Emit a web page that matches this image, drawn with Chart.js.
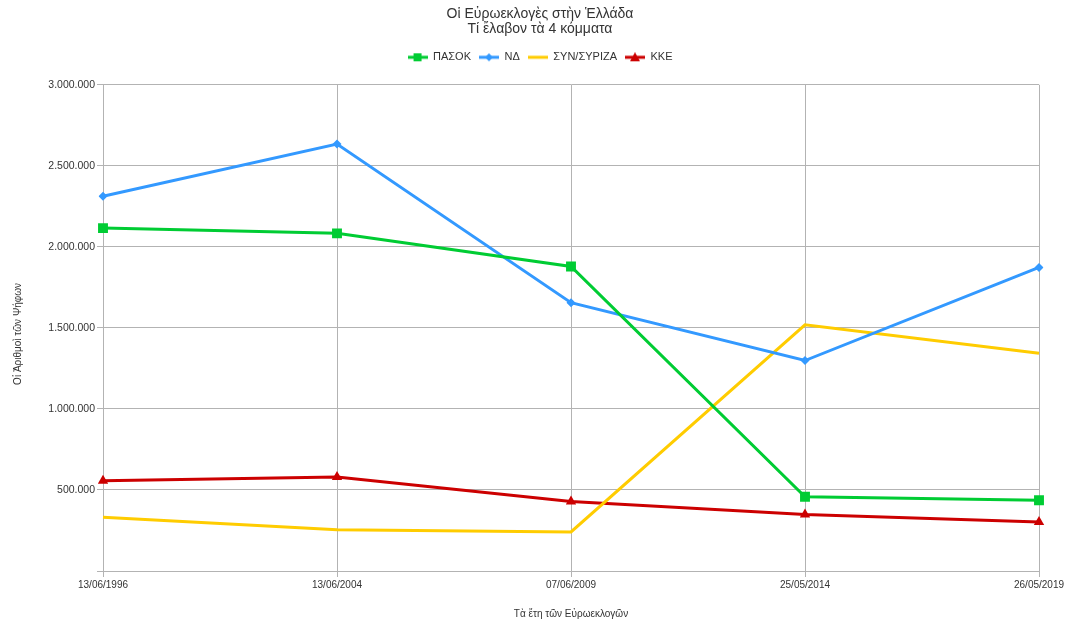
<!DOCTYPE html>
<html>
<head>
<meta charset="utf-8">
<script src="https://cdn.jsdelivr.net/npm/chart.js@4/dist/chart.umd.min.js"></script>
<style>
  html, body { margin: 0; padding: 0; background: #fff; }
  #wrap { width: 1068px; height: 625px; }
</style>
</head>
<body>
<div id="wrap"><canvas id="chart" width="1068" height="625"></canvas></div>
<script>
// data
const dates = ['13/06/1996', '13/06/2004', '07/06/2009', '25/05/2014', '26/05/2019'];
const pasok = [2115844, 2083327, 1878859, 458403, 436726];
const nd = [2312591, 2633961, 1655636, 1298713, 1873137];
const syriza = [332000, 254447, 240898, 1518608, 1343595];
const kke = [557365, 580396, 428283, 349255, 302603];
const yTicks = [0, 500000, 1000000, 1500000, 2000000, 2500000, 3000000];

const FONT = 'Liberation Sans';
const TXT = '#333333';
const GRID = '#b3b3b3';
const yTitle = 'Οἱ Ἀριθμοὶ τῶν Ψήφων';

// small canvas for legend: line with marker in middle
function legendIcon(color, style) {
  let c = document.createElement('canvas');
  c.width = 20; c.height = 10;
  let ctx = c.getContext('2d');
  ctx.strokeStyle = color;
  ctx.fillStyle = color;
  ctx.lineWidth = 3;
  ctx.beginPath();
  ctx.moveTo(0, 5); ctx.lineTo(20, 5);
  ctx.stroke();
  ctx.beginPath();
  if (style == 'rect') {
    ctx.rect(6, 1, 8, 8);
  } else if (style == 'rectRot') {
    ctx.moveTo(10, 1); ctx.lineTo(14, 5); ctx.lineTo(10, 9); ctx.lineTo(6, 5);
  } else if (style == 'triangle') {
    ctx.moveTo(10, 0); ctx.lineTo(15, 9); ctx.lineTo(5, 9);
  }
  ctx.closePath();
  if (style) ctx.fill();
  return c;
}

function ds(label, data, color, style, radius) {
  return {
    label: label,
    data: data,
    borderColor: color,
    backgroundColor: color,
    borderWidth: 3,
    pointStyle: style || 'circle',
    pointRadius: radius,
    pointHoverRadius: radius,
    pointBorderWidth: 0,
    tension: 0,
    fill: false,
    legendIcon: legendIcon(color, style)
  };
}

// y axis title drawn by hand so it can sit left of the padding
const yTitlePlugin = {
  id: 'yTitle',
  afterDraw(chart) {
    let c = chart.ctx;
    let a = chart.chartArea;
    c.save();
    c.translate(18, (a.top + a.bottom) / 2 + 6);
    c.rotate(-Math.PI / 2);
    c.font = '10px ' + FONT;
    c.fillStyle = TXT;
    c.textAlign = 'center';
    c.textBaseline = 'middle';
    c.fillText(yTitle, 0, 0);
    c.restore();
  }
};

let ctx = document.querySelector('#chart');
let chart = new Chart(ctx, {
  type: 'line',
  data: {
    labels: dates,
    datasets: [
      ds('ΠΑΣΟΚ', pasok, '#00cc33', 'rect', 7),
      ds('ΝΔ', nd, '#3399ff', 'rectRot', 4.5),
      ds('ΣΥΝ/ΣΥΡΙΖΑ', syriza, '#ffcc00', null, 0),
      ds('ΚΚΕ', kke, '#cc0000', 'triangle', 6)
    ]
  },
  plugins: [yTitlePlugin],
  options: {
    responsive: false,
    animation: false,
    layout: { padding: { left: 41, right: 29, top: 6, bottom: 5 } },
    plugins: {
      title: {
        display: true,
        text: ['Οἱ Εὐρωεκλογὲς στὴν Ἑλλάδα', 'Τί ἔλαβον τὰ 4 κόμματα'],
        color: TXT,
        font: { family: FONT, size: 14, weight: 'normal', lineHeight: 1.1 },
        padding: { top: 0, bottom: 7 }
      },
      legend: {
        position: 'top',
        labels: {
          color: TXT,
          font: { family: FONT, size: 11 },
          usePointStyle: true,
          pointStyleWidth: 20,
          padding: 8,
          generateLabels: function (chart) {
            return chart.data.datasets.map((d, i) => ({
              text: d.label,
              fontColor: TXT,
              pointStyle: d.legendIcon,
              fillStyle: d.borderColor,
              strokeStyle: d.borderColor,
              lineWidth: 0,
              hidden: false,
              datasetIndex: i
            }));
          }
        }
      },
      tooltip: { enabled: false }
    },
    scales: {
      x: {
        offset: false,
        grid: { color: GRID, tickLength: 6 },
        border: { color: GRID },
        ticks: { color: TXT, font: { family: FONT, size: 10 }, maxRotation: 0, padding: 2 },
        title: {
          display: true,
          text: 'Τὰ ἔτη τῶν Εὐρωεκλογῶν',
          color: TXT,
          font: { family: FONT, size: 10 },
          padding: { top: 15, bottom: 0 }
        }
      },
      y: {
        min: 0,
        max: 3000000,
        afterBuildTicks: function (scale) {
          scale.ticks = yTicks.map(v => ({ value: v }));
        },
        afterFit: function (scale) {
          scale.width = 62;
        },
        grid: { color: GRID, tickLength: 6 },
        border: { color: GRID },
        ticks: {
          color: TXT,
          font: { family: FONT, size: 10.5 },
          padding: 2,
          callback: function (v) {
            if (v == 0) return '';
            return v.toString().replace(/\B(?=(\d{3})+(?!\d))/g, '.');
          }
        }
      }
    }
  }
});

// extra room under the legend
let legendFit = chart.legend.fit;
chart.legend.fit = function () {
  legendFit.call(this);
  this.height += 12;
};
chart.update();
</script>
</body>
</html>
